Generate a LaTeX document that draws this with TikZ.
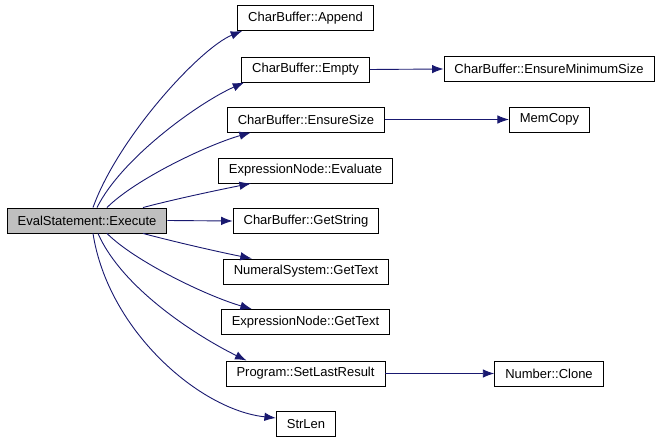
\documentclass[tikz,border=0pt]{standalone}
\usepackage{fontspec}
\setmainfont{Liberation Sans}
\usetikzlibrary{arrows.meta}
\definecolor{callblue}{RGB}{25,25,112}

\begin{document}
\begin{tikzpicture}[x=1pt, y=-1pt,
    fn/.style={draw=black, line width=0.9pt, rectangle, inner xsep=10.5pt, inner ysep=0pt,
      minimum height=25pt, font=\fontsize{13}{15}\selectfont},
    caller/.style={fn, fill=black!25},
    call/.style={draw=callblue, line width=0.9pt, -{Latex[length=11.5pt,width=8.5pt]}}]
          \useasboundingbox (0,0) rectangle (661,443);

          \node[caller] (exec) at (87,220.5) {EvalStatement::Execute};

          \node[fn] (append)      at (305.5,18)    {CharBuffer::Append};
          \node[fn] (empty)       at (305.5,69.5)  {CharBuffer::Empty};
          \node[fn] (ensuresize)  at (306,119.5)   {CharBuffer::EnsureSize};
          \node[fn] (evaluate)    at (305.5,170.5) {ExpressionNode::Evaluate};
          \node[fn] (getstring)   at (306,221)     {CharBuffer::GetString};
          \node[fn] (numgettext)  at (306,271.5)   {NumeralSystem::GetText};
          \node[fn] (exprgettext) at (305.5,322)   {ExpressionNode::GetText};
          \node[fn] (setlast)     at (305.5,373.5) {Program::SetLastResult};
          \node[fn] (strlen)      at (306,424)     {StrLen};

          \node[fn] (ensuremin) at (549,69)    {CharBuffer::EnsureMinimumSize};
          \node[fn] (memcopy)   at (549.5,119.5) {MemCopy};
          \node[fn] (clone)     at (549,373.5)   {Number::Clone};

          % calls leaving the top of the caller
          \draw[call] ([xshift=6pt]exec.north) .. controls +(25,-70) and +(-42,17) .. ([xshift=5pt]append.south west);
          \draw[call] ([xshift=10pt]exec.north) .. controls +(25,-50) and +(-45,20) .. ([xshift=3pt]empty.south west);
          \draw[call] ([xshift=20pt]exec.north) .. controls +(28,-28) and +(-45,13) .. ([xshift=24pt]ensuresize.south west);
          \draw[call] ([xshift=56pt]exec.north) .. controls +(30,-8) and +(-35,7) .. ([xshift=33pt]evaluate.south west);

          \draw[call] (exec.east) -- (getstring.west);

          % calls leaving the bottom of the caller
          \draw[call] ([xshift=56pt]exec.south) .. controls +(30,8) and +(-35,-7) .. ([xshift=29pt]numgettext.north west);
          \draw[call] ([xshift=20pt]exec.south) .. controls +(28,28) and +(-45,-13) .. ([xshift=31pt]exprgettext.north west);
          \draw[call] ([xshift=11pt]exec.south) .. controls +(25,57) and +(-45,-22) .. ([xshift=21pt]setlast.north west);
          \draw[call] ([xshift=6pt]exec.south) .. controls +(15,97) and +(-76,-8) .. ([yshift=6pt]strlen.west);

          \foreach \from/\to in {empty/ensuremin, ensuresize/memcopy, setlast/clone}{
            \draw[call] (\from.east) -- (\to.west);
          }
        \end{tikzpicture}
\end{document}
